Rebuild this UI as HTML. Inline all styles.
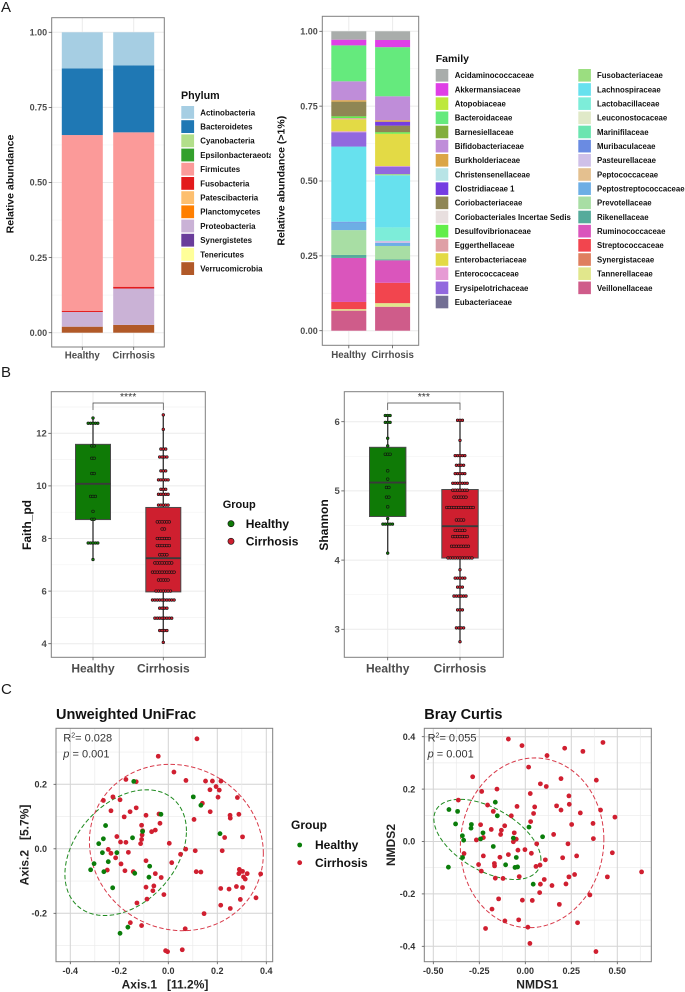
<!DOCTYPE html>
<html lang="en">
<head>
<meta charset="utf-8">
<title>Microbiome composition and diversity</title>
<style>
html,body{margin:0;padding:0;background:#fff;width:685px;height:992px;overflow:hidden}
svg{display:block;font-family:"Liberation Sans",sans-serif;filter:blur(0.3px)}
</style>
</head>
<body>
<svg id="fig" xmlns="http://www.w3.org/2000/svg" width="685" height="992" viewBox="0 0 685 992">
<defs><clipPath id="phylumClip"><rect x="170" y="90" width="101" height="200"/></clipPath></defs>
<rect width="685" height="992" fill="#fff"/>
</svg>
<script>
// ---------- Panel A data ----------
const stackGroups = ['Healthy', 'Cirrhosis'];
const stackTicks = [0, 0.25, 0.5, 0.75, 1];
const stackTickLabels = ['0.00', '0.25', '0.50', '0.75', '1.00'];

const phylumNames = ['Actinobacteria','Bacteroidetes','Cyanobacteria','Epsilonbacteraeota','Firmicutes','Fusobacteria','Patescibacteria','Planctomycetes','Proteobacteria','Synergistetes','Tenericutes','Verrucomicrobia'];
const phylumHealthy = [0.12,0.222,0,0,0.585,0.004,0,0,0.049,0,0,0.02];
const phylumCirrhosis = [0.11,0.223,0,0,0.514,0.006,0,0,0.121,0,0,0.026];
const phylumColors = ['#A6CEE3','#1F78B4','#B2DF8A','#33A02C','#FB9A99','#E31A1C','#FDBF6F','#FF7F00','#CAB2D6','#6A3D9A','#FFFF99','#B15928'];

const familyNames = ['Acidaminococcaceae','Akkermansiaceae','Atopobiaceae','Bacteroidaceae','Barnesiellaceae','Bifidobacteriaceae','Burkholderiaceae','Christensenellaceae','Clostridiaceae 1','Coriobacteriaceae','Coriobacteriales Incertae Sedis','Desulfovibrionaceae','Eggerthellaceae','Enterobacteriaceae','Enterococcaceae','Erysipelotrichaceae','Eubacteriaceae','Fusobacteriaceae','Lachnospiraceae','Lactobacillaceae','Leuconostocaceae','Marinifilaceae','Muribaculaceae','Pasteurellaceae','Peptococcaceae','Peptostreptococcaceae','Prevotellaceae','Rikenellaceae','Ruminococcaceae','Streptococcaceae','Synergistaceae','Tannerellaceae','Veillonellaceae'];
const familyHealthy = [0.028,0.019,0,0.12,0,0.063,0.005,0,0,0.049,0,0.006,0.004,0.04,0.003,0.048,0,0,0.251,0,0,0,0.003,0,0,0.025,0.083,0.01,0.147,0.024,0,0.005,0.067];
const familyCirrhosis = [0.029,0.024,0,0.164,0,0.08,0.005,0,0.013,0.022,0,0.005,0,0.108,0.002,0.025,0,0.004,0.174,0.045,0,0,0,0.007,0,0.01,0.045,0.003,0.075,0.068,0,0.012,0.08];
const familyColors = ['#A9ADAB','#DF3FE6','#BDE83C','#65EA7D','#82AE3C','#BF8DD9','#DBA545','#B8E4E6','#753CE2','#8F8654','#E8DFDF','#62EE4A','#DFA0A6','#E3DA45','#E69BD4','#9268DE','#736F94','#9BDE80','#67E1EE','#7DEDD9','#E0E9C8','#6BE5B0','#6A8BE2','#CFC0E8','#E4C08F','#6DAEE5','#A8DEA4','#55AB9B','#DA55BC','#F2454E','#DF7F5F','#E1E78C','#CF5C8A'];

// ---------- Panel B data ----------
const boxGroups = ['Healthy', 'Cirrhosis'];
const faithTicks = [4, 6, 8, 10, 12];
const faithBoxHealthy = [7.2, 8.72, 10.08, 11.58, 12.6];
const faithBoxCirrhosis = [4.05, 5.97, 7.25, 9.18, 12.7];
const faithLevelsHealthy = [12.58,12.38,11.52,11.05,10.47,9.6,9.03,8.73,7.83,7.2];
const faithCountsHealthy = [1,5,2,2,2,3,1,2,5,1];
const faithLevelsCirrhosis = [12.7,12.15,11.4,11.1,10.57,10.23,9.87,9.68,9.27,8.63,8.36,8.0,7.73,7.38,7.07,6.72,6.42,6.0,5.66,5.35,4.97,4.5,4.05];
const faithCountsCirrhosis = [1,1,3,4,3,5,3,5,5,6,2,6,6,4,8,10,5,7,10,4,8,4,1];

const shannonTicks = [3, 4, 5, 6];
const shannonBoxHealthy = [4.09, 4.63, 5.12, 5.63, 6.09];
const shannonBoxCirrhosis = [2.82, 4.03, 4.49, 5.02, 6.02];
const shannonLevelsHealthy = [6.09,5.99,5.76,5.65,5.53,5.29,5.17,5.05,4.91,4.77,4.6,4.52,4.1];
const shannonCountsHealthy = [3,3,1,1,3,1,1,2,2,1,1,5,1];
const shannonLevelsCirrhosis = [6.02,5.73,5.51,5.37,5.25,5.11,5.01,4.91,4.76,4.58,4.43,4.34,4.2,4.03,3.86,3.74,3.61,3.48,3.28,3.02,2.82];
const shannonCountsCirrhosis = [3,1,5,4,5,7,7,6,12,4,5,7,8,11,1,5,3,6,3,4,1];

// ---------- Panel C data ----------
const uniXTicks = [-0.4,-0.2,0,0.2,0.4];
const uniYTicks = [-0.2,0,0.2];
const uniRedX = [.117,-.041,.023,.072,.152,.18,.215,.195,.17,.208,-.173,-.131,.203,.282,-.265,-.226,-.197,.139,-.131,-.234,-.156,.171,-.18,-.091,-.038,.252,.253,.288,.105,-.109,-.034,-.053,-.068,-.105,-.107,-.109,-.113,-.21,.23,.303,-.195,-.173,.004,-.245,-.234,-.215,-.163,.11,.22,.071,.05,-.091,.014,-.193,-.249,-.177,-.143,-.053,-.029,.114,.133,.29,.303,.288,.322,.377,.307,.314,-.059,-.091,-.063,-.018,.214,.248,.278,.303,-.087,-.128,.294,.358,.214,.253,.146,-.155,-.109,.069,.057,-.011,-.003];
const uniRedY = [.341,.287,.238,.212,.21,.21,.21,.193,.183,.182,.215,.208,.16,.159,.15,.161,.152,.141,.127,.118,.115,.115,.099,.104,.108,.104,.095,.107,.091,.073,.079,.058,.053,.056,.043,.029,.016,.038,.035,.037,.021,.02,.017,-.002,-.014,-.028,-.011,-.006,-.006,-.001,-.017,-.037,-.043,-.047,-.066,-.068,-.071,-.077,-.089,-.071,-.072,-.064,-.07,-.077,-.077,-.078,-.087,-.094,-.115,-.119,-.13,-.142,-.123,-.125,-.117,-.12,-.156,-.168,-.157,-.152,-.175,-.185,-.201,-.229,-.238,-.248,-.313,-.316,-.319];
const uniGreenX = [-.141,.102,.133,-.03,-.256,-.146,-.105,-.265,-.284,-.269,-.21,-.245,-.303,-.317,-.263,-.076,-.137,-.079,-.227,.211,-.165,-.197];
const uniGreenY = [.209,.161,.135,.107,.072,.034,.054,.031,.016,-.012,-.012,-.04,-.046,-.065,-.071,-.054,-.076,-.088,-.121,.047,-.243,-.262];
const uniEllipseGreen = [-.174,-.012,.248,.195,.345];
const uniEllipseRed = [.033,.004,.355,.258,-.073];

const brayXTicks = [-0.5,-0.25,0,0.25,0.5];
const brayYTicks = [-0.4,-0.2,0,0.2,0.4];
const brayRedX = [-.092,-.018,.214,.313,.422,.118,.018,-.286,.194,.386,.082,.114,-.154,-.237,.027,.237,-.364,-.205,-.045,.051,.17,.239,.194,.409,-.174,.045,.299,-.076,.487,.029,.368,-.243,.252,-.112,-.185,-.13,-.06,-.134,.154,-.228,-.266,-.049,.37,-.065,.062,.232,-.002,-.04,.033,-.333,.473,-.092,-.228,-.138,.279,.203,.109,-.168,-.254,-.167,.08,.058,-.239,.632,-.033,-.163,-.121,.237,.268,.446,.103,.082,.221,.145,.078,.351,-.145,-.016,.038,.185,-.181,-.111,-.036,.284,.014,-.216,.025,.384];
const brayRedY = [.391,.366,.356,.344,.378,.328,.284,.247,.24,.234,.22,.21,.2,.191,.183,.174,.158,.139,.134,.132,.136,.142,.12,.12,.115,.107,.109,.098,.093,.076,.069,.064,.065,.06,.046,.043,.033,.027,.027,.015,.006,.009,.011,-.001,-.009,-.009,-.031,-.033,-.045,-.046,-.043,-.05,-.055,-.06,-.055,-.062,-.07,-.084,-.088,-.093,-.09,-.095,-.113,-.116,-.134,-.14,-.141,-.135,-.126,-.135,-.145,-.163,-.162,-.168,-.195,-.204,-.219,-.224,-.225,-.24,-.258,-.303,-.299,-.31,-.327,-.332,-.389,-.42];
const brayGreenX = [-.415,-.368,-.163,-.152,-.379,-.293,-.295,.02,-.23,-.342,-.335,-.243,-.065,.094,-.174,-.341,-.107,-.049,-.056,-.042,-.418,.043];
const brayGreenY = [.122,.115,.15,.098,.067,.065,.051,.055,.033,.022,.005,.01,.013,.018,-.019,-.061,-.089,-.061,-.099,-.097,-.098,-.163];
const brayEllipseGreen = [-.206,.008,.291,.153,-.51];
const brayEllipseRed = [.037,-.005,.39,.324,.04];

// ---------- Helpers ----------
const NS = 'http://www.w3.org/2000/svg';
const fig = document.getElementById('fig');
const GREY = '#4d4d4d';

function scale(d0, d1, r0, r1) {
  return function (v) { return r0 + (v - d0) * (r1 - r0) / (d1 - d0); };
}
function el(tag, attrs, name, parent, active) {
  const e = document.createElementNS(NS, tag);
  for (const k in attrs) e.setAttribute(k, attrs[k]);
  
  
  (parent || fig).appendChild(e);
  return e;
}
function txt(s, x, y, size, opts, name, parent) {
  const o = opts || {};
  const a = {x: x, y: y, 'font-size': size, 'font-weight': o.weight || 'bold', fill: o.fill || '#1a1a1a', 'text-anchor': o.anchor || 'start'};
  if (o.rot) a.transform = 'rotate(' + o.rot + ' ' + x + ' ' + y + ')';
  if (o.clip) a['clip-path'] = o.clip;
  if (o.pre) a.style = 'white-space:pre';
  const t = el('text', a, name, parent);
  t.textContent = s;
  return t;
}
function line(x1, y1, x2, y2, stroke, w, name, parent) {
  return el('line', {x1: x1, y1: y1, x2: x2, y2: y2, stroke: stroke, 'stroke-width': w}, name, parent);
}
function frame(box, parent) {
  el('rect', {x: box[0], y: box[1], width: box[2] - box[0], height: box[3] - box[1], fill: 'none', stroke: '#7f7f7f', 'stroke-width': 1}, 'panel-border', parent);
}
function gridY(box, y, ticks, major, minor, parent) {
  ticks.forEach(function (t, i) {
    if (i < ticks.length - 1) {
      const m = y((t + ticks[i + 1]) / 2);
      line(box[0], m, box[2], m, minor, 0.7, 'minor-gridline-y', parent);
    }
    line(box[0], y(t), box[2], y(t), major, 1, 'major-gridline-y', parent);
  });
  const step = ticks[1] - ticks[0];
  [ticks[0] - step / 2, ticks[ticks.length - 1] + step / 2].forEach(function (t) {
    const p = y(t);
    if (p > box[1] && p < box[3]) line(box[0], p, box[2], p, minor, 0.7, 'minor-gridline-y', parent);
  });
}
function gridX(box, x, ticks, major, minor, parent) {
  ticks.forEach(function (t, i) {
    if (i < ticks.length - 1) {
      const m = x((t + ticks[i + 1]) / 2);
      line(m, box[1], m, box[3], minor, 0.7, 'minor-gridline-x', parent);
    }
    line(x(t), box[1], x(t), box[3], major, 1, 'major-gridline-x', parent);
  });
  const step = ticks[1] - ticks[0];
  [ticks[0] - step / 2, ticks[ticks.length - 1] + step / 2].forEach(function (t) {
    const p = x(t);
    if (p > box[0] && p < box[2]) line(p, box[1], p, box[3], minor, 0.7, 'minor-gridline-x', parent);
  });
}

// ---------- Panel letters ----------
txt('A', 1, 12, 15, {weight: 'normal'}, 'panel-label-a');
txt('B', 1, 377, 15, {weight: 'normal'}, 'panel-label-b');
txt('C', 1, 694, 15, {weight: 'normal'}, 'panel-label-c');

// ---------- Stacked bars ----------
function stackedChart(cfg) {
  const g = el('g', {}, cfg.name);
  const box = cfg.box;
  const y = scale(0, 1, cfg.y0, cfg.y1);
  const cx = cfg.centers;
  gridY(box, y, stackTicks, '#ebebeb', '#f4f4f4', g);
  cx.forEach(function (c) { line(c, box[1], c, box[3], '#ebebeb', 1, 'major-gridline-x', g); });
  [cfg.healthy, cfg.cirrhosis].forEach(function (vals, gi) {
    let cum = 0;
    for (let i = vals.length - 1; i >= 0; i--) {
      if (vals[i] > 0) {
        const seg = el('rect', {x: cx[gi] - cfg.barW / 2, y: y(cum + vals[i]), width: cfg.barW, height: y(cum) - y(cum + vals[i]), fill: cfg.colors[i]}, 'bar-' + stackGroups[gi].toLowerCase() + '-' + cfg.names[i].toLowerCase().replace(/\s+/g, '-'), g);
        seg.setAttribute('shape-rendering', 'geometricPrecision');
      }
      cum += vals[i];
    }
  });
  frame(box, g);
  stackTicks.forEach(function (t, i) {
    line(box[0] - 3, y(t), box[0], y(t), '#555', 0.8, 'y-tick', g);
    txt(stackTickLabels[i], box[0] - 4.5, y(t) + 3.2, 9, {fill: GREY, anchor: 'end'}, 'y-tick-label', g);
  });
  cx.forEach(function (c, i) {
    line(c, box[3], c, box[3] + 3, '#555', 0.8, 'x-tick', g);
    txt(stackGroups[i], c, cfg.labelY, 9.7, {fill: GREY, anchor: 'middle'}, 'x-tick-label', g);
  });
  txt(cfg.yTitle, cfg.yTitleX, cfg.yTitleY, 10.5, {anchor: 'middle', rot: -90, fill: '#111'}, 'y-axis-title', g);
}
stackedChart({name: 'phylum-stacked-chart', box: [51.7, 17.7, 164.3, 347], y0: 332.7, y1: 32.3, centers: [82.3, 133.7], barW: 41, labelY: 358.5, healthy: phylumHealthy, cirrhosis: phylumCirrhosis, colors: phylumColors, names: phylumNames, yTitle: 'Relative abundance', yTitleX: 13.5, yTitleY: 184});
stackedChart({name: 'family-stacked-chart', box: [322.3, 16.3, 418.7, 345.3], y0: 330.7, y1: 31.3, centers: [348.8, 392.6], barW: 35, labelY: 358, healthy: familyHealthy, cirrhosis: familyCirrhosis, colors: familyColors, names: familyNames, yTitle: 'Relative abundance (>1%)', yTitleX: 284.5, yTitleY: 180.7});

// Phylum legend
const phylumLegend = el('g', {}, 'phylum-legend');
txt('Phylum', 181, 99, 10.7, {fill: '#111'}, 'legend-title', phylumLegend);
phylumNames.forEach(function (n, i) {
  const top = 106 + i * 14.2;
  el('rect', {x: 181.3, y: top, width: 12.8, height: 12.8, fill: phylumColors[i]}, 'legend-swatch', phylumLegend);
  txt(n, 200.3, top + 9.3, 7.9, {fill: '#111', clip: 'url(#phylumClip)'}, 'legend-entry', phylumLegend);
});

// Family legend
const familyLegend = el('g', {}, 'family-legend');
txt('Family', 435.7, 62, 10.5, {fill: '#111'}, 'legend-title', familyLegend);
const familyColumnRows = 17;
familyNames.forEach(function (n, i) {
  const col = i < familyColumnRows ? 0 : 1;
  const row = col ? i - familyColumnRows : i;
  const top = 69 + row * 14.17;
  const sx = col ? 578.3 : 435.7;
  el('rect', {x: sx, y: top, width: 12.6, height: 12.6, fill: familyColors[i]}, 'legend-swatch', familyLegend);
  txt(n, col ? 597 : 454.7, top + 9.2, 7.8, {fill: '#111'}, 'legend-entry', familyLegend);
});

// ---------- Box + dot plots ----------
function boxChart(cfg) {
  const g = el('g', {}, cfg.name);
  const box = cfg.box;
  const y = scale(cfg.tickA, cfg.tickB, cfg.pxA, cfg.pxB);
  gridY(box, y, cfg.ticks, '#ebebeb', '#f3f3f3', g);
  cfg.centers.forEach(function (c) { line(c, box[1], c, box[3], '#ebebeb', 1, 'major-gridline-x', g); });
  const fills = ['#0f7a06', '#ce1f2f'];
  [cfg.statsH, cfg.statsC].forEach(function (s, i) {
    const c = cfg.centers[i];
    const key = boxGroups[i].toLowerCase();
    line(c, y(s[0]), c, y(s[4]), '#3f3f3f', 1.4, 'whisker-' + key, g);
    el('rect', {x: c - cfg.boxW / 2, y: y(s[3]), width: cfg.boxW, height: y(s[1]) - y(s[3]), fill: fills[i], stroke: '#4a4a4a', 'stroke-width': 1}, 'box-' + key, g);
    line(c - cfg.boxW / 2, y(s[2]), c + cfg.boxW / 2, y(s[2]), '#3a3a3a', 1.9, 'median-' + key, g);
  });
  [[cfg.levelsH, cfg.countsH], [cfg.levelsC, cfg.countsC]].forEach(function (set, i) {
    const c = cfg.centers[i];
    set[0].forEach(function (lv, r) {
      const n = set[1][r];
      for (let k = 0; k < n; k++) {
        el('circle', {cx: c + (k - (n - 1) / 2) * 2.4, cy: y(lv), r: 1.35, fill: fills[i], stroke: '#111', 'stroke-width': 0.6}, 'dot-' + boxGroups[i].toLowerCase(), g);
      }
    });
  });
  const br = 'M' + cfg.centers[0] + ' 410V403H' + cfg.centers[1] + 'V410';
  el('path', {d: br, fill: 'none', stroke: '#444', 'stroke-width': 0.7}, 'significance-bracket', g);
  txt(cfg.stars, (cfg.centers[0] + cfg.centers[1]) / 2, 400, 10.5, {anchor: 'middle', weight: 'normal', fill: '#333'}, 'significance-stars', g);
  frame(box, g);
  cfg.ticks.forEach(function (t) {
    line(box[0] - 3, y(t), box[0], y(t), '#555', 0.8, 'y-tick', g);
    txt(String(t), box[0] - 4.5, y(t) + 3.3, 9.5, {fill: GREY, anchor: 'end'}, 'y-tick-label', g);
  });
  cfg.centers.forEach(function (c, i) {
    line(c, box[3], c, box[3] + 3, '#555', 0.8, 'x-tick', g);
    txt(boxGroups[i], c, 672.5, 12, {fill: GREY, anchor: 'middle'}, 'x-tick-label', g);
  });
  txt(cfg.yTitle, cfg.yTitleX, 525, 12, {anchor: 'middle', rot: -90, fill: '#111'}, 'y-axis-title', g);
}
boxChart({name: 'faith-pd-boxplot', box: [51.3, 391.7, 205.3, 657.3], ticks: faithTicks, tickA: 4, tickB: 12, pxA: 643.7, pxB: 433.3, centers: [93, 163.3], boxW: 35, statsH: faithBoxHealthy, statsC: faithBoxCirrhosis, levelsH: faithLevelsHealthy, countsH: faithCountsHealthy, levelsC: faithLevelsCirrhosis, countsC: faithCountsCirrhosis, stars: '****', yTitle: 'Faith_pd', yTitleX: 31});
boxChart({name: 'shannon-boxplot', box: [344.3, 391.7, 503.3, 657.3], ticks: shannonTicks, tickA: 3, tickB: 6, pxA: 629.3, pxB: 421.7, centers: [387.7, 460], boxW: 36.4, statsH: shannonBoxHealthy, statsC: shannonBoxCirrhosis, levelsH: shannonLevelsHealthy, countsH: shannonCountsHealthy, levelsC: shannonLevelsCirrhosis, countsC: shannonCountsCirrhosis, stars: '***', yTitle: 'Shannon', yTitleX: 328});

// Group legend (B)
const groupLegendB = el('g', {}, 'group-legend-boxplots');
txt('Group', 222.7, 508, 11, {fill: '#111'}, 'legend-title', groupLegendB);
boxGroups.forEach(function (n, i) {
  const yy = 523.7 + i * 17.6;
  el('circle', {cx: 231, cy: yy, r: 3.1, fill: ['#0f7a06', '#ce1f2f'][i], stroke: '#111', 'stroke-width': 0.6}, 'legend-marker', groupLegendB);
  txt(n, 245.7, yy + 4.3, 12, {fill: '#111'}, 'legend-entry', groupLegendB);
});

// ---------- Ordination scatter plots ----------
function scatterChart(cfg) {
  const g = el('g', {}, cfg.name);
  const box = cfg.box;
  const x = scale(cfg.xA, cfg.xB, cfg.pxXA, cfg.pxXB);
  const y = scale(cfg.yA, cfg.yB, cfg.pxYA, cfg.pxYB);
  gridY(box, y, cfg.yTicks, '#d4d4d4', '#ebebeb', g);
  gridX(box, x, cfg.xTicks, '#d4d4d4', '#ebebeb', g);
  function ellipse(p, color, name) {
    const phi = Math.acos(p[4]);
    let d = '';
    for (let a = 0; a <= 120; a++) {
      const t = a / 120 * 2 * Math.PI;
      d += (a ? 'L' : 'M') + x(p[0] + p[2] * Math.cos(t)).toFixed(2) + ' ' + y(p[1] + p[3] * Math.cos(t - phi)).toFixed(2);
    }
    el('path', {d: d + 'Z', fill: 'none', stroke: color, 'stroke-width': 1, 'stroke-dasharray': '4.5 2.4'}, name, g);
  }
  ellipse(cfg.ellipseGreen, '#1f8a1f', 'ellipse-healthy');
  ellipse(cfg.ellipseRed, '#d83a4a', 'ellipse-cirrhosis');
  cfg.redX.forEach(function (v, i) {
    el('circle', {cx: x(v), cy: y(cfg.redY[i]), r: 2.4, fill: '#d01f30'}, 'point-cirrhosis', g);
  });
  cfg.greenX.forEach(function (v, i) {
    el('circle', {cx: x(v), cy: y(cfg.greenY[i]), r: 2.4, fill: '#0a7d0a'}, 'point-healthy', g);
  });
  frame(box, g);
  cfg.xTicks.forEach(function (t) {
    line(x(t), box[3], x(t), box[3] + 2.5, '#555', 0.8, 'x-tick', g);
    txt(t.toFixed(cfg.xDigits), x(t), 974, 9, {fill: '#333', anchor: 'middle'}, 'x-tick-label', g);
  });
  cfg.yTicks.forEach(function (t) {
    line(box[0] - 2.5, y(t), box[0], y(t), '#555', 0.8, 'y-tick', g);
    txt(t.toFixed(1), box[0] - 9, y(t) + 3.2, 9, {fill: '#333', anchor: 'end'}, 'y-tick-label', g);
  });
  txt(cfg.title, box[0], 719, 14.5, {fill: '#111'}, 'chart-title', g);
  txt(cfg.xTitle, cfg.xTitleX, 988.7, 12, {fill: '#222', anchor: 'middle', pre: true}, 'x-axis-title', g);
  txt(cfg.yTitle, cfg.yTitleX, 845, 12, {fill: '#222', anchor: 'middle', rot: -90, pre: true}, 'y-axis-title', g);
  const r2 = el('text', {x: box[0] + 7.3 + cfg.noteDx, y: 741.7, 'font-size': 11, fill: '#333'}, 'r-squared-note', g);
  r2.textContent = 'R';
  const sup = el('tspan', {dy: -4, 'font-size': 7}, 'r-squared-exponent', r2);
  sup.textContent = '2';
  const rest = el('tspan', {dy: 4}, 'r-squared-value', r2);
  rest.textContent = cfg.r2;
  const pv = el('text', {x: box[0] + 7.3 + cfg.noteDx, y: 757.7, 'font-size': 11, fill: '#333'}, 'p-value-note', g);
  const pi = el('tspan', {'font-style': 'italic'}, 'p-symbol', pv);
  pi.textContent = 'p';
  const pr = el('tspan', {}, 'p-value', pv);
  pr.textContent = ' = 0.001';
}
scatterChart({name: 'unweighted-unifrac-chart', box: [56, 728.3, 272.7, 961.7], xA: -0.4, xB: 0.4, pxXA: 70.3, pxXB: 266.3, yA: -0.2, yB: 0.2, pxYA: 913.3, pxYB: 784.3, xTicks: uniXTicks, yTicks: uniYTicks, xDigits: 1, redX: uniRedX, redY: uniRedY, greenX: uniGreenX, greenY: uniGreenY, ellipseGreen: uniEllipseGreen, ellipseRed: uniEllipseRed, title: 'Unweighted UniFrac', xTitle: 'Axis.1   [11.2%]', xTitleX: 165, yTitle: 'Axis.2   [5.7%]', yTitleX: 28.5, r2: '= 0.028', noteDx: 0});
scatterChart({name: 'bray-curtis-chart', box: [424.3, 728.3, 651.3, 961.7], xA: -0.5, xB: 0.5, pxXA: 433.3, pxXB: 617.3, yA: -0.4, yB: 0.4, pxYA: 946.3, pxYB: 736.7, xTicks: brayXTicks, yTicks: brayYTicks, xDigits: 2, redX: brayRedX, redY: brayRedY, greenX: brayGreenX, greenY: brayGreenY, ellipseGreen: brayEllipseGreen, ellipseRed: brayEllipseRed, title: 'Bray Curtis', xTitle: 'NMDS1', xTitleX: 537.3, yTitle: 'NMDS2', yTitleX: 395, r2: '= 0.055', noteDx: -4});

// Group legend (C)
const groupLegendC = el('g', {}, 'group-legend-ordination');
txt('Group', 291, 829, 12, {fill: '#111'}, 'legend-title', groupLegendC);
boxGroups.forEach(function (n, i) {
  const yy = 845 + i * 17.7;
  el('circle', {cx: 299.7, cy: yy, r: 2.4, fill: ['#0a7d0a', '#d01f30'][i]}, 'legend-marker', groupLegendC);
  txt(n, 315, yy + 4.2, 12, {fill: '#111'}, 'legend-entry', groupLegendC);
});
</script>
</body>
</html>
